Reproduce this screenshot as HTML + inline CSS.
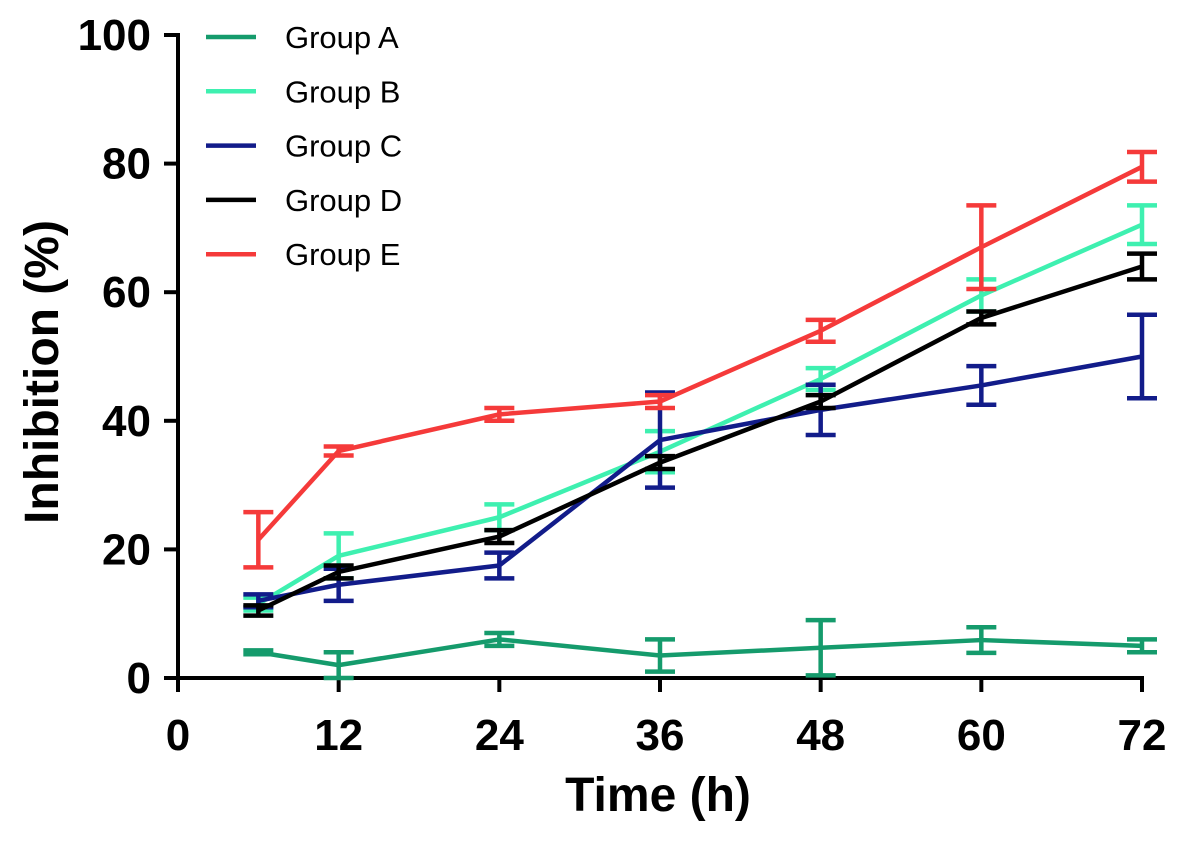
<!DOCTYPE html>
<html><head><meta charset="utf-8"><style>
body{margin:0;background:#fff;}
svg text{font-family:"Liberation Sans",Arial,sans-serif;}
</style></head><body>
<svg id="chart" width="1181" height="836" xmlns="http://www.w3.org/2000/svg">
<g id="axes"></g><g id="series"></g><g id="legend"></g>
</svg>
<script>
const times=[6,12,24,36,48,60,72];
const seriesNames=["Group A","Group B","Group C","Group D","Group E"];
const colors=["#159b6c","#3ef0b0","#121c8a","#000000","#f53a3a"];
const groupA=[4,2,6,3.5,4.7,5.9,5];
const groupAErr=[0.3,2,1,2.5,4.3,2,1];
const groupB=[11.5,19,25,35.2,46.5,59.5,70.5];
const groupBErr=[1,3.5,2,3.2,1.7,2.5,3];
const groupC=[12,14.5,17.5,37,41.7,45.5,50];
const groupCErr=[1,2.5,2,7.4,3.9,3,6.5];
const groupD=[10.5,16.5,22,33.5,43,56,64];
const groupDErr=[0.8,1,1,1,1,1,2];
const groupE=[21.5,35.3,41,43,54,67,79.5];
const groupEErr=[4.3,0.7,1,1,1.7,6.5,2.3];
const xTicks=[0,12,24,36,48,60,72];
const yTicks=[0,20,40,60,80,100];
const allVals=[groupA,groupB,groupC,groupD,groupE];
const allErr=[groupAErr,groupBErr,groupCErr,groupDErr,groupEErr];
const NS="http://www.w3.org/2000/svg";
const X0=178,X1=1142,Y0=678,Y1=35;
function xs(v){return X0+(v/72)*(X1-X0);}
function ys(v){return Y0-(v/100)*(Y0-Y1);}
function mk(tag,attrs,parent){const e=document.createElementNS(NS,tag);for(const k in attrs)e.setAttribute(k,attrs[k]);parent.appendChild(e);return e;}
const ax=document.getElementById('axes');
let l=mk('line',{x1:X0,y1:Y1-2,x2:X0,y2:Y0+2,stroke:'#000','stroke-width':4},ax);


l=mk('line',{x1:X0-2,y1:Y0,x2:X1+2,y2:Y0,stroke:'#000','stroke-width':4},ax);


yTicks.forEach(v=>{
  mk('line',{x1:X0-14,y1:ys(v),x2:X0,y2:ys(v),stroke:'#000','stroke-width':4},ax);
  const t=mk('text',{x:X0-27,y:ys(v)+15,'text-anchor':'end','font-size':44,'font-weight':'bold'},ax);
  t.textContent=v;
  
  
});
xTicks.forEach(v=>{
  mk('line',{x1:xs(v),y1:Y0,x2:xs(v),y2:Y0+14,stroke:'#000','stroke-width':4},ax);
  const t=mk('text',{x:xs(v),y:750,'text-anchor':'middle','font-size':44,'font-weight':'bold'},ax);
  t.textContent=v;
  
  
});
let t=mk('text',{x:658,y:811,'text-anchor':'middle','font-size':48,'font-weight':'bold'},ax);
t.textContent='Time (h)';


t=mk('text',{x:0,y:0,'text-anchor':'middle','font-size':48,'font-weight':'bold',transform:'translate(58,372) rotate(-90)'},ax);
t.textContent='Inhibition (%)';


const sg=document.getElementById('series');
allVals.forEach((vals,i)=>{
  const g=mk('g',{},sg);
  
  
  const errs=allErr[i];
  vals.forEach((v,j)=>{
    const x=xs(times[j]),lo=ys(v-errs[j]),hi=ys(v+errs[j]);
    const e=mk('path',{d:`M${x},${lo}V${hi}M${x-15},${lo}H${x+15}M${x-15},${hi}H${x+15}`,stroke:colors[i],'stroke-width':4.5,fill:'none'},g);
    
    
  });
  const p=mk('polyline',{points:vals.map((v,j)=>xs(times[j])+','+ys(v)).join(' '),stroke:colors[i],'stroke-width':4.5,fill:'none','stroke-linejoin':'round'},g);
  
  
});
const lg=document.getElementById('legend');
seriesNames.forEach((n,i)=>{
  const y=37+i*54.3;
  const g=mk('g',{},lg);
  
  
  mk('line',{x1:206,y1:y,x2:256,y2:y,stroke:colors[i],'stroke-width':4.5},g);
  const tx=mk('text',{x:285,y:y+11,'font-size':31},g);
  tx.textContent=n;
});
</script>
</body></html>
